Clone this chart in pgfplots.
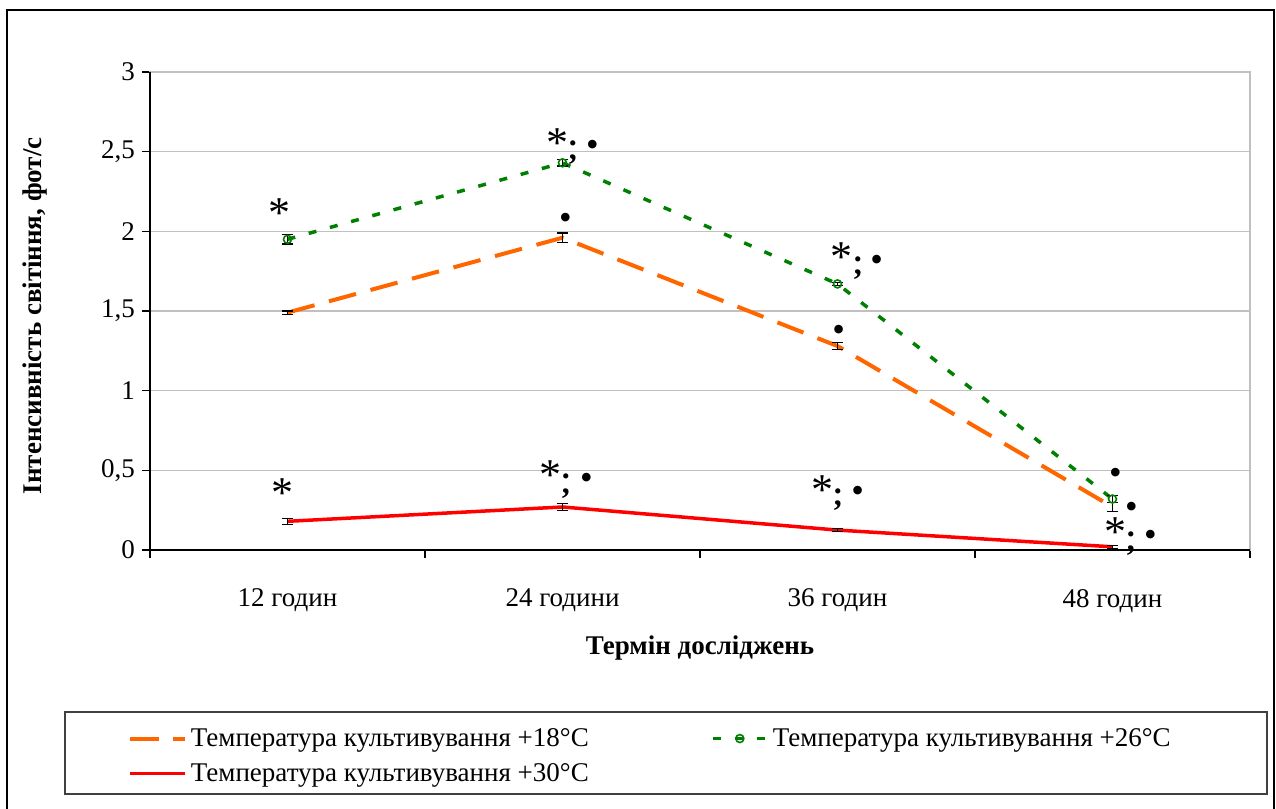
\documentclass[border=0pt]{standalone}
\usepackage{fontspec}
\setmainfont{Liberation Serif}
\usepackage{pgfplots}
\pgfplotsset{compat=1.18}

\definecolor{c18}{RGB}{255,102,0}
\definecolor{c26}{RGB}{0,128,0}
\definecolor{c30}{RGB}{255,0,0}
\definecolor{gridgray}{RGB}{192,192,192}

\newcommand{\lbl}{\fontsize{13.5}{16}\selectfont}

\pgfplotsset{
  errs/.style={
    error bars/.cd, y dir=both, y explicit,
    error bar style={black, solid, line width=0.6pt},
    error mark options={rotate=90, mark size=2.8pt, black, solid, line width=0.6pt}
  }
}

\begin{document}
\begin{tikzpicture}[
  ast/.style={font=\fontsize{22}{24}\selectfont, inner sep=0pt, anchor=center},
  bul/.style={font=\fontsize{18}{20}\selectfont, inner sep=0pt, anchor=center},
  pun/.style={font=\fontsize{16}{20}\selectfont\bfseries, inner sep=0pt, anchor=center}]
\useasboundingbox (-75pt,-129.5pt) rectangle (563pt,275pt);
% outer frame and legend frame
\draw[line width=1pt] (-71.5pt,-135pt) rectangle (562pt,270pt);
\draw[line width=0.8pt, black!75] (-42.5pt,-81pt) rectangle (558.5pt,-122pt);
\begin{axis}[
  at={(0pt,0pt)}, anchor=south west,
  scale only axis, width=550pt, height=239pt,
  clip=false,
  xmin=-0.5, xmax=3.5, ymin=0, ymax=3,
  xtick pos=bottom, ytick pos=left,
  xtick={-0.5,0.5,1.5,2.5,3.5}, xticklabels={},
  extra x ticks={0,1,2,3},
  extra x tick labels={12 годин,24 години,36 годин,48 годин},
  extra x tick style={major tick length=0pt, tick label style={yshift=-16pt}},
  ytick={0,0.5,1,1.5,2,2.5,3},
  yticklabels={0,{0,5},1,{1,5},2,{2,5},3},
  /pgf/number format/assume math mode=true,
  ymajorgrids, grid style={gridgray, line width=0.6pt},
  tick align=outside, major tick length=4pt,
  tick style={black, line width=0.6pt},
  axis line style={gridgray, line width=0.8pt},
  tick label style={font=\lbl},
  xlabel={Термін досліджень},
  ylabel={Інтенсивність світіння, фот/с},
  every axis x label/.style={at={(axis description cs:0.5,-0.205)}, anchor=center, font=\lbl\bfseries},
  every axis y label/.style={at={(axis description cs:-0.1045,0.49)}, anchor=center, rotate=90, font=\lbl\bfseries},
  legend columns=2,
  legend cell align=left,
  legend style={draw=none, fill=none, at={(axis description cs:-0.0255,-0.355)},
    anchor=north west, font=\lbl, row sep=3pt,
    /tikz/every even column/.append style={column sep=59pt}},
  legend image code/.code={\draw[mark repeat=2, mark phase=2, #1] plot coordinates {(0cm,0cm) (0.48cm,0cm) (0.96cm,0cm)};},
]
\addplot[c18, line width=2pt, dash pattern=on 14pt off 7.5pt, errs]
  coordinates {(0,1.49) +- (0,0.01) (1,1.96) +- (0,0.03) (2,1.28) +- (0,0.02) (3,0.27) +- (0,0.03)};
\addlegendentry{Температура культивування +18°C}
\addplot[c26, line width=1.75pt, dash pattern=on 4pt off 7pt, mark=o, mark size=2pt,
  mark options={solid, line width=0.8pt, fill=white}, errs]
  coordinates {(0,1.95) +- (0,0.03) (1,2.43) +- (0,0.02) (2,1.67) +- (0,0.01) (3,0.32) +- (0,0.02)};
\addlegendentry{Температура культивування +26°C}
\addplot[c30, line width=1.75pt, errs]
  coordinates {(0,0.18) +- (0,0.02) (1,0.27) +- (0,0.02) (2,0.125) +- (0,0.01) (3,0.02) +- (0,0.01)};
\addlegendentry{Температура культивування +30°C}

% significance marks, +26°C
\node[ast] at (axis cs:-0.029,2.115) {*};
\node[ast] at (axis cs:0.980,2.554) {*};
\node[pun] at (axis cs:1.038,2.555) {.};
\node[pun] at (axis cs:1.038,2.450) {,};
\node[bul] at (axis cs:1.109,2.523) {•};
\node[ast] at (axis cs:2.013,1.839) {*};
\node[pun] at (axis cs:2.074,1.827) {.};
\node[pun] at (axis cs:2.074,1.728) {,};
\node[bul] at (axis cs:2.142,1.801) {•};
\node[bul] at (axis cs:3.011,0.464) {•};
% significance marks, +18°C
\node[bul] at (axis cs:1.011,2.065) {•};
\node[bul] at (axis cs:2.004,1.362) {•};
\node[bul] at (axis cs:3.069,0.251) {•};
% significance marks, +30°C
\node[ast] at (axis cs:-0.018,0.358) {*};
\node[ast] at (axis cs:0.955,0.471) {*};
\node[pun] at (axis cs:1.012,0.465) {.};
\node[pun] at (axis cs:1.012,0.354) {,};
\node[bul] at (axis cs:1.087,0.433) {•};
\node[ast] at (axis cs:1.944,0.377) {*};
\node[pun] at (axis cs:2.001,0.371) {.};
\node[pun] at (axis cs:2.001,0.278) {,};
\node[bul] at (axis cs:2.073,0.351) {•};
\node[ast] at (axis cs:3.010,0.113) {*};
\node[pun] at (axis cs:3.067,0.101) {.};
\node[pun] at (axis cs:3.067,-0.004) {,};
\node[bul] at (axis cs:3.138,0.075) {•};

% left and bottom axis lines in black
\draw[black, line width=0.8pt] (rel axis cs:0,1) -- (rel axis cs:0,0) -- (rel axis cs:1,0);
\end{axis}
\end{tikzpicture}
\end{document}
